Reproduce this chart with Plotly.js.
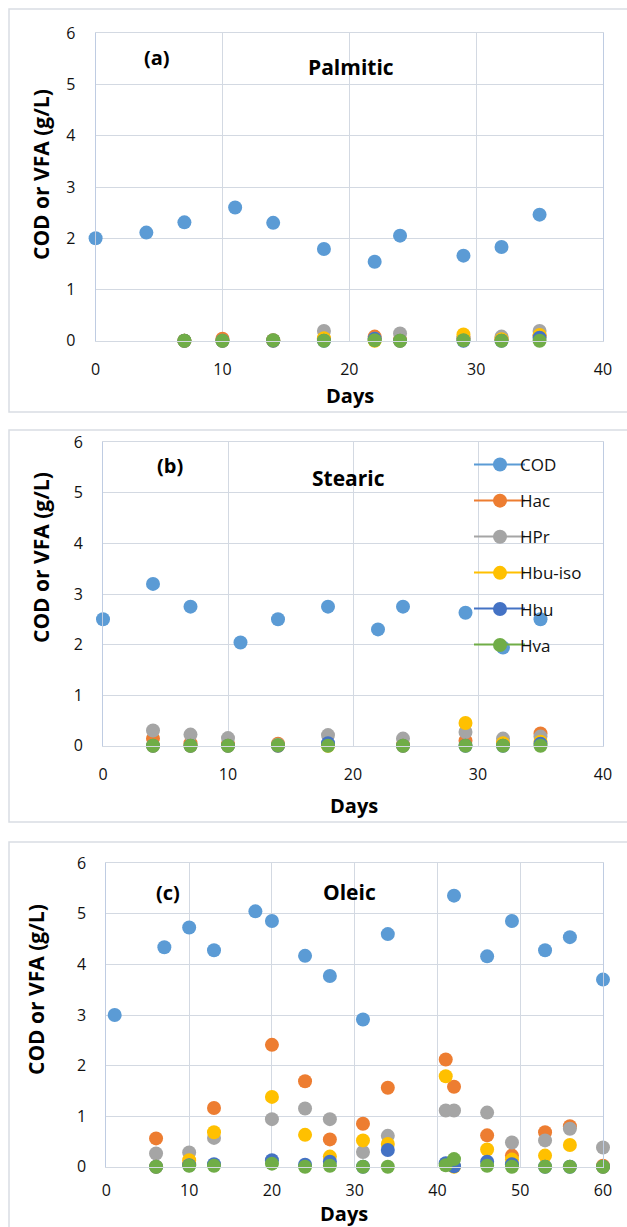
<!DOCTYPE html>
<html>
<head>
<meta charset="utf-8">
<script src="https://cdn.plot.ly/plotly-3.0.1.min.js"></script>
<style>html,body{margin:0;padding:0;background:#fff;}#chart{width:627px;height:1227px;}</style>
</head>
<body>
<div id="chart"></div>
<script>
// ---------- DATA ----------
const seriesNames = ["COD", "Hac", "HPr", "Hbu-iso", "Hbu", "Hva"];
const panelLabels = ["(a)", "(b)", "(c)"];
const panelTitles = ["Palmitic", "Stearic", "Oleic"];
const xTitle = "Days";
const yTitle = "COD or VFA (g/L)";

// (a) Palmitic
const codDaysA = [0, 4, 7, 11, 14, 18, 22, 24, 29, 32, 35];
const codA     = [2.0, 2.11, 2.31, 2.6, 2.3, 1.79, 1.54, 2.05, 1.66, 1.83, 2.46];
const vfaDaysA = [7, 10, 14, 18, 22, 24, 29, 32, 35];
const hacA     = [0, 0.04, 0.01, 0.03, 0.08, 0.02, 0.05, 0.03, 0.1];
const hprA     = [0, 0, 0.01, 0.19, 0.04, 0.14, 0.05, 0.08, 0.19];
const hbuisoA  = [0, 0, 0, 0.05, 0, 0, 0.12, 0.03, 0.11];
const hbuA     = [0, 0, 0, 0, 0.04, 0, 0, 0, 0.06];
const hvaA     = [0, 0, 0.01, 0, 0.01, 0, 0.01, 0, 0];

// (b) Stearic
const codDaysB = [0, 4, 7, 11, 14, 18, 22, 24, 29, 32, 35];
const codB     = [2.5, 3.2, 2.75, 2.04, 2.5, 2.75, 2.3, 2.75, 2.63, 1.94, 2.5];
const vfaDaysB = [4, 7, 10, 14, 18, 24, 29, 32, 35];
const hacB     = [0.14, 0.05, 0.03, 0.04, 0.02, 0.02, 0.1, 0.05, 0.24];
const hprB     = [0.3, 0.22, 0.15, 0.02, 0.21, 0.14, 0.27, 0.14, 0.18];
const hbuisoB  = [0, 0, 0, 0, 0, 0, 0.45, 0.05, 0.08];
const hbuB     = [0, 0, 0, 0, 0.05, 0, 0, 0, 0.04];
const hvaB     = [0, 0, 0, 0.01, 0, 0, 0, 0, 0];

// (c) Oleic
const codDaysC = [1, 7, 10, 13, 18, 20, 24, 27, 31, 34, 42, 46, 49, 53, 56, 60];
const codC     = [3.0, 4.34, 4.73, 4.28, 5.05, 4.86, 4.17, 3.77, 2.91, 4.6, 5.36, 4.16, 4.86, 4.28, 4.54, 3.7];
const vfaDaysC = [6, 10, 13, 20, 24, 27, 31, 34, 41, 42, 46, 49, 53, 56, 60];
const hacC     = [0.56, 0.05, 1.16, 2.41, 1.69, 0.54, 0.85, 1.56, 2.12, 1.58, 0.62, 0.22, 0.68, 0.8, 0.02];
const hprC     = [0.26, 0.28, 0.57, 0.94, 1.15, 0.94, 0.29, 0.61, 1.11, 1.11, 1.07, 0.48, 0.52, 0.75, 0.38];
const hbuisoC  = [0, 0.13, 0.68, 1.38, 0.63, 0.2, 0.52, 0.45, 1.79, 0, 0.34, 0.14, 0.22, 0.43, 0];
const hbuC     = [0, 0.03, 0.05, 0.13, 0.04, 0.1, 0, 0.33, 0.07, 0.01, 0.1, 0.05, 0, 0, 0];
const hvaC     = [0, 0.02, 0.02, 0.06, 0, 0.02, 0, 0, 0.03, 0.15, 0.02, 0, 0, 0, 0];

const xMax = [40, 40, 60];

// ---------- STYLE ----------
const colors = ["#5B9BD5", "#ED7D31", "#A5A5A5", "#FFC000", "#4472C4", "#70AD47"];
const W = 627, H = 1227;
const FONT = "Open Sans";
const gridC = "#D3D9E2";
const px = p => p / W;
const py = p => 1 - p / H;

// plot areas in pixels [left, right, top, bottom]
const areas = [
  [95.6, 603, 33.3, 340.7],
  [103, 603, 442.3, 745.7],
  [106.4, 603, 863.3, 1166.7]
];

const panels = [
  {cd: codDaysA, cod: codA, vd: vfaDaysA, vfa: [hacA, hprA, hbuisoA, hbuA, hvaA]},
  {cd: codDaysB, cod: codB, vd: vfaDaysB, vfa: [hacB, hprB, hbuisoB, hbuB, hvaB]},
  {cd: codDaysC, cod: codC, vd: vfaDaysC, vfa: [hacC, hprC, hbuisoC, hbuC, hvaC]}
];

const traces = [];
const layout = {
  width: W, height: H,
  margin: {l: 0, r: 0, t: 0, b: 0},
  paper_bgcolor: "#fff", plot_bgcolor: "rgba(0,0,0,0)",
  showlegend: true,
  legend: {
    x: px(480), y: py(447), xanchor: "left", yanchor: "top",
    bgcolor: "rgba(0,0,0,0)", borderwidth: 0,
    font: {family: FONT, size: 17, color: "#111"},
    traceorder: "grouped", tracegroupgap: 11, itemwidth: 30
  },
  annotations: [], shapes: []
};

panels.forEach((p, i) => {
  const s = i === 0 ? "" : String(i + 1);
  const xa = "x" + s, ya = "y" + s;
  const a = areas[i];
  const inLegend = (i === 1);
  const add = (xs, ys, k) => {
    traces.push({
      x: xs, y: ys, xaxis: xa, yaxis: ya, type: "scatter", mode: "markers",
      name: seriesNames[k], legendgroup: "g" + k, showlegend: inLegend,
      marker: {color: colors[k], size: 14, line: {width: 0}},
      cliponaxis: false, hoverinfo: "x+y"
    });
  };
  add(p.cd, p.cod, 0);
  p.vfa.forEach((arr, k) => add(p.vd, arr, k + 1));
  layout["xaxis" + s] = {
    domain: [px(a[0]), px(a[1])], anchor: ya, range: [0, xMax[i]], dtick: 10,
    showgrid: true, gridcolor: gridC, gridwidth: 1, zeroline: false,
    showline: true, linecolor: gridC, linewidth: 1, mirror: true,
    ticks: "", ticklabelstandoff: i === 2 ? 9 : 14,
    tickfont: {family: FONT, size: 16, color: "#111"}, fixedrange: true
  };
  layout["yaxis" + s] = {
    domain: [py(a[3]), py(a[2])], anchor: xa, range: [0, 6], dtick: 1,
    showgrid: true, gridcolor: gridC, gridwidth: 1, zeroline: false,
    showline: true, linecolor: "#BFCCE2", linewidth: 1, mirror: true,
    ticks: "", ticklabelstandoff: 16,
    tickfont: {family: FONT, size: 16, color: "#111"}, fixedrange: true
  };
});

// legend key lines (Excel "line with marker" legend keys), under the legend markers
seriesNames.forEach((n, k) => {
  const yRow = 464.5 + 36 * k;
  layout.shapes.push({type: "line", xref: "paper", yref: "paper", layer: "above",
    x0: px(474), x1: px(525), y0: py(yRow), y1: py(yRow),
    line: {color: colors[k], width: 2}});
});

// chart-area borders
const boxes = [[9, 412], [430, 822], [842, 1240]];
boxes.forEach(b => {
  layout.shapes.push({type: "rect", xref: "paper", yref: "paper",
    x0: px(9), x1: px(640), y0: py(b[1]), y1: py(b[0]),
    line: {color: "#D9DDE3", width: 1.5}, fillcolor: "rgba(0,0,0,0)", layer: "below"});
});

// titles and labels
const ann = (text, x, y, size, angle) => ({
  text: text, xref: "paper", yref: "paper", x: px(x), y: py(y),
  xanchor: "center", yanchor: "middle", showarrow: false, textangle: angle || 0,
  font: {family: FONT, size: size, color: "#000", weight: "bold"}
});
const labelPos = [[157, 57], [170, 466], [168, 892]];
const titlePos = [[351, 67], [348, 478], [349, 892]];
const daysPos = [[350, 395], [354, 805], [344, 1213]];
const yTitlePos = [[41, 175], [41, 558], [36, 990]];
for (let i = 0; i < 3; i++) {
  layout.annotations.push(ann(panelLabels[i], labelPos[i][0], labelPos[i][1], 20));
  layout.annotations.push(ann(panelTitles[i], titlePos[i][0], titlePos[i][1], 21));
  layout.annotations.push(ann(xTitle, daysPos[i][0], daysPos[i][1], 20));
  layout.annotations.push(ann(yTitle, yTitlePos[i][0], yTitlePos[i][1], 21, -90));
}

Plotly.newPlot("chart", traces, layout, {displayModeBar: false, staticPlot: true});
</script>
</body>
</html>
